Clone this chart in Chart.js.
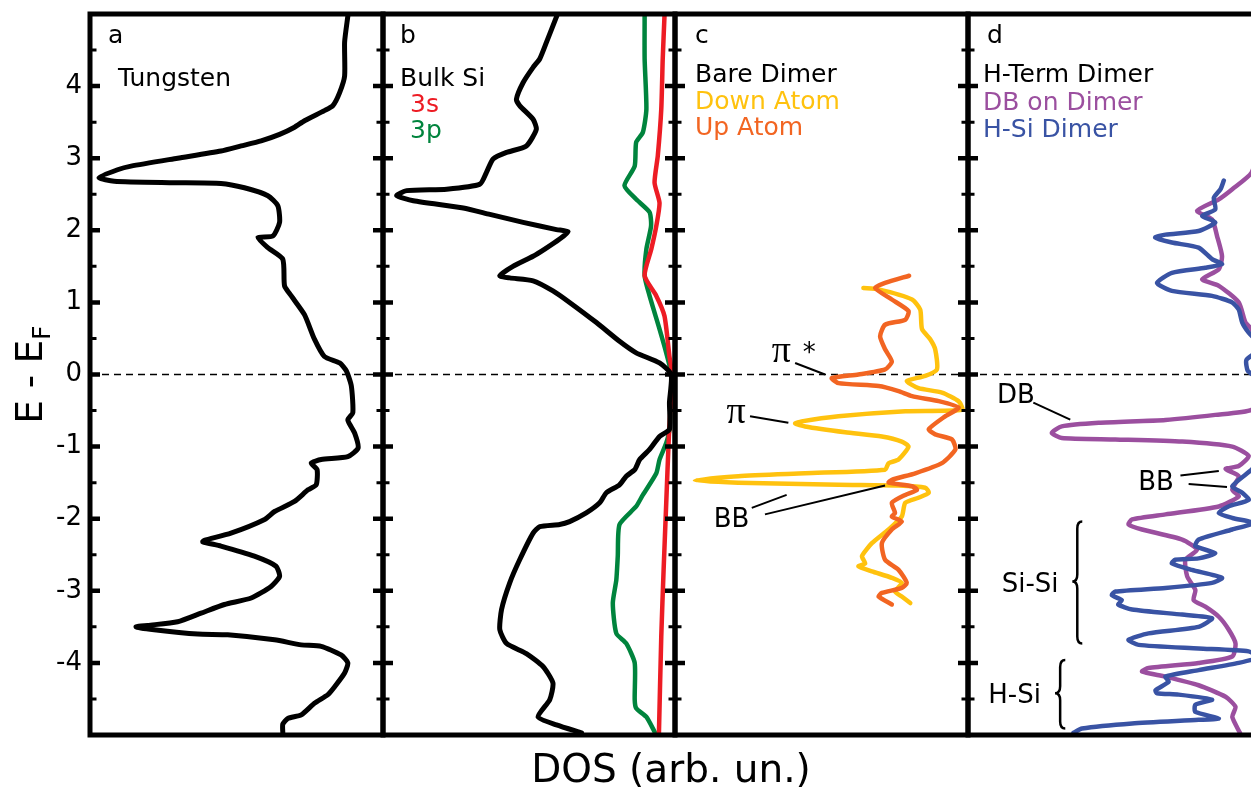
<!DOCTYPE html>
<html>
<head>
<meta charset="utf-8">
<script src="https://cdn.jsdelivr.net/npm/chart.js@4.4.1/dist/chart.umd.min.js"></script>
<style>
  html, body { margin: 0; padding: 0; background: #fff; overflow: hidden; }
  body { width: 1251px; height: 790px; position: relative; }
  canvas { position: absolute; top: 0; }
  #xTitle {
    position: absolute; left: 371px; width: 600px; top: 749px;
    text-align: center; font: 39px 'DejaVu Sans', sans-serif; line-height: 39px; color: #000;
  }
</style>
</head>
<body>
<canvas id="panelA" width="393" height="790" style="left:0px"></canvas>
<canvas id="panelB" width="312" height="790" style="left:373px"></canvas>
<canvas id="panelC" width="313" height="790" style="left:665px"></canvas>
<canvas id="panelD" width="313" height="790" style="left:958px"></canvas>
<div id="xTitle">DOS (arb. un.)</div>
<script>
// energy axis labels (eV relative to the Fermi level)
const energyTicks = [-4, -3, -2, -1, 0, 1, 2, 3, 4];

// each series: [energy, DOS] pairs, DOS in arbitrary units 0..100 across a panel
const tungsten = [
  [4.97, 88], [4.61, 86.9], [4.14, 86.9], [3.91, 85.2], [3.73, 82.9], [3.66, 80], [3.52, 73.2],
  [3.43, 69.8], [3.33, 64.7], [3.24, 58.4], [3.17, 51.6], [3.10, 44.7], [3.0, 29.9], [2.89, 14],
  [2.84, 9.4], [2.73, 3.1], [2.68, 8.3], [2.66, 27.6], [2.65, 44.7], [2.59, 52.7], [2.48, 60.7],
  [2.34, 64.1], [2.11, 64.7], [1.92, 62.4], [1.90, 57.3], [1.76, 60.7], [1.60, 65.8], [1.23, 66.4],
  [1.09, 68.7], [0.83, 73.2], [0.49, 76.6], [0.25, 80], [0.16, 85.2], [0.05, 87.5], [-0.16, 89.2],
  [-0.53, 89.7], [-0.63, 88], [-0.81, 90.3], [-1.02, 91.5], [-1.14, 88], [-1.18, 78.9], [-1.23, 75.5],
  [-1.32, 77.5], [-1.53, 77.2], [-1.60, 74.4], [-1.76, 69.8], [-1.90, 63], [-2.01, 59.6], [-2.20, 48.1],
  [-2.30, 39], [-2.32, 38.5], [-2.38, 44.7], [-2.52, 56.1], [-2.66, 63.5], [-2.80, 64.7], [-2.94, 61.8],
  [-3.10, 55], [-3.19, 45.9], [-3.31, 37.9], [-3.43, 29.9], [-3.48, 19.7], [-3.50, 15.7], [-3.54, 21.9],
  [-3.60, 36.8], [-3.61, 47], [-3.68, 63], [-3.75, 72.1], [-3.77, 78.9], [-3.89, 85.7], [-4.0, 88],
  [-4.14, 86.9], [-4.33, 83.5], [-4.44, 81.2], [-4.56, 76.6], [-4.72, 72.1], [-4.77, 67.5],
  [-4.85, 65.8], [-4.97, 65.8]
];

const bulkSi = [
  [4.97, 59.5], [4.61, 56], [4.38, 53.7], [4.26, 51.4], [4.05, 48], [3.82, 45.7], [3.73, 46.8],
  [3.54, 51.4], [3.40, 52.5], [3.17, 49.1], [3.08, 42.3], [2.99, 37.7], [2.80, 35.4], [2.64, 33.2],
  [2.57, 21.8], [2.55, 8.1], [2.48, 4.7], [2.41, 10.4], [2.31, 27.5], [2.22, 36.6], [2.11, 48],
  [2.01, 59.4], [1.98, 63.4], [1.88, 60.5], [1.74, 55.4], [1.64, 51.4], [1.50, 44.5], [1.37, 40],
  [1.34, 43.4], [1.30, 51.4], [1.16, 58.2], [1.0, 63.9], [0.72, 73.1], [0.46, 81], [0.30, 86.7],
  [0.16, 94.7], [0.0, 98.7], [-0.39, 98.1], [-0.76, 98.1], [-0.86, 94.7], [-1.04, 91.3], [-1.18, 87.9],
  [-1.32, 86.2], [-1.41, 83.3], [-1.53, 81], [-1.64, 76.5], [-1.78, 74.2], [-1.92, 69.6], [-2.04, 63.9],
  [-2.08, 60.5], [-2.11, 53.7], [-2.20, 51.4], [-2.57, 46.8], [-2.89, 43.4], [-3.26, 40.6], [-3.54, 40],
  [-3.73, 42.3], [-3.87, 49.1], [-4.05, 54.8], [-4.28, 58.2], [-4.51, 57.1], [-4.75, 53.1],
  [-4.86, 59.4], [-4.97, 68]
];

const bulkSi3p = [
  [4.97, 89.6], [4.38, 89.6], [3.68, 90.2], [3.36, 89], [3.22, 86.7], [2.89, 86.2], [2.62, 82.7],
  [2.43, 86.7], [2.25, 91.3], [2.06, 91.8], [1.74, 90.2], [1.37, 89.6], [1.09, 91.3], [0.63, 94.7],
  [0.30, 97], [0.0, 98.7], [-0.76, 98.1], [-0.95, 97], [-1.18, 94.7], [-1.37, 93.6], [-1.67, 89],
  [-1.83, 86.7], [-2.08, 81], [-2.52, 80.4], [-2.85, 79.9], [-3.17, 78.7], [-3.59, 79.9], [-3.73, 83.3],
  [-4.0, 86.2], [-4.51, 86.2], [-4.63, 86.7], [-4.75, 90.2], [-4.97, 93.2]
];

const bulkSi3s = [
  [4.97, 96.4], [4.38, 95.8], [3.68, 95.3], [3.03, 94.1], [2.66, 93], [2.38, 94.7], [2.06, 93.6],
  [1.74, 91.9], [1.37, 89.6], [1.09, 93.6], [0.81, 96.4], [0.25, 98.1], [0.0, 99], [-0.86, 97.9],
  [-1.78, 97], [-2.71, 96.1], [-3.63, 95.3], [-4.97, 94.5]
];

const upAtom = [
  [1.37, 79.9], [1.27, 71.7], [1.20, 68.3], [1.04, 74], [0.88, 79.7], [0.76, 78.6], [0.69, 71.7],
  [0.53, 70], [0.35, 71.7], [0.18, 74], [0.07, 71.7], [0.0, 62.6], [-0.05, 53.5], [-0.12, 55.8],
  [-0.16, 69.5], [-0.23, 76.3], [-0.30, 80.9], [-0.37, 90], [-0.46, 96.8], [-0.58, 92.2], [-0.76, 86.6],
  [-0.83, 88.8], [-0.90, 94.5], [-1.04, 95.7], [-1.23, 91.1], [-1.37, 82], [-1.46, 74], [-1.50, 72.9],
  [-1.55, 80.9], [-1.60, 82.6], [-1.67, 78.6], [-1.78, 74], [-1.92, 75.1], [-1.97, 74], [-2.04, 77.4],
  [-2.15, 74], [-2.34, 70.6], [-2.57, 71.7], [-2.71, 76.3], [-2.89, 79.1], [-2.96, 77.4], [-3.03, 70.6],
  [-3.08, 69.5], [-3.19, 74]
];

const downAtom = [
  [1.20, 64.3], [1.18, 69.5], [1.04, 80.9], [0.90, 83.7], [0.63, 84.3], [0.49, 87.1], [0.35, 88.8],
  [0.07, 89.4], [-0.02, 85.4], [-0.09, 79.1], [-0.19, 83.1], [-0.25, 91.1], [-0.37, 96.8], [-0.49, 98],
  [-0.51, 78.6], [-0.58, 55.8], [-0.65, 43.2], [-0.68, 41], [-0.72, 44.4], [-0.80, 58.1], [-0.86, 70.6],
  [-0.93, 77.4], [-1.0, 79.7], [-1.18, 76.3], [-1.23, 72.9], [-1.32, 71.7], [-1.37, 44.4], [-1.41, 21.6],
  [-1.47, 6.8], [-1.50, 21.6], [-1.53, 55.8], [-1.54, 76.3], [-1.57, 85.4], [-1.64, 86.6], [-1.71, 83.1],
  [-1.78, 78.6], [-1.97, 77.4], [-2.15, 72.9], [-2.34, 67.2], [-2.52, 63.8], [-2.62, 64.9], [-2.66, 62.6],
  [-2.73, 67.2], [-2.82, 74], [-2.89, 77.4], [-3.01, 75.1], [-3.08, 77.4], [-3.17, 80.3]
];

const dbOnDimer = [
  [3.2, 99.5], [2.80, 96.8], [2.57, 90.2], [2.43, 85.6], [2.27, 78.2], [2.15, 83.3], [1.92, 85],
  [1.64, 86.7], [1.46, 85.6], [1.32, 79.9], [1.23, 85.6], [1.0, 92.4], [0.72, 94.7], [0.63, 96.8],
  [0.3, 99.5], [-0.3, 99.5], [-0.49, 96.8], [-0.56, 84.4], [-0.63, 67.4], [-0.67, 44.6], [-0.72, 32],
  [-0.81, 28.6], [-0.88, 32], [-0.90, 50.3], [-0.93, 73.1], [-1.0, 90.2], [-1.13, 95.8], [-1.27, 92.4],
  [-1.31, 87.9], [-1.41, 92.4], [-1.60, 90.2], [-1.69, 92.4], [-1.83, 85.6], [-1.94, 67.4], [-2.01, 56],
  [-2.08, 54.8], [-2.15, 59.4], [-2.29, 73.1], [-2.43, 78.2], [-2.57, 74.2], [-2.80, 74.8], [-2.99, 77.6],
  [-3.13, 77], [-3.22, 81], [-3.36, 85.6], [-3.54, 89], [-3.73, 91.3], [-3.91, 90.2], [-4.0, 78.7],
  [-4.07, 61.6], [-4.12, 59.4], [-4.19, 67.4], [-4.31, 78.7], [-4.47, 87.9], [-4.61, 91.3], [-4.75, 90.2],
  [-4.97, 92.8]
];

const hSiDimer = [
  [2.69, 87.3], [2.57, 86.2], [2.45, 83.9], [2.29, 84.4], [2.20, 79.9], [2.11, 84.4], [1.99, 78.7],
  [1.94, 67.4], [1.90, 63.9], [1.83, 69.6], [1.76, 78.7], [1.60, 83.3], [1.53, 86.7], [1.48, 81],
  [1.41, 69.6], [1.27, 64.5], [1.16, 69.6], [1.09, 83.3], [1.0, 90.2], [0.90, 92.4], [0.72, 93.6],
  [0.58, 95.8], [0.44, 99], [0.32, 98.5], [0.2, 95], [0.05, 95.5], [-0.05, 98.5], [-0.6, 99.5],
  [-1.2, 99.5], [-1.32, 96.8], [-1.55, 90.2], [-1.64, 93.6], [-1.74, 95.8], [-1.83, 88.9], [-1.92, 85.6],
  [-1.99, 90.2], [-2.06, 97.5], [-2.15, 90.2], [-2.29, 78.7], [-2.38, 77.6], [-2.48, 84.4], [-2.55, 78.7],
  [-2.57, 70.7], [-2.62, 69.6], [-2.71, 76.4], [-2.82, 86.7], [-2.89, 83.3], [-2.96, 67.4], [-3.01, 50.3],
  [-3.06, 49.1], [-3.13, 52.5], [-3.19, 51.3], [-3.26, 56], [-3.33, 73.1], [-3.38, 83.3], [-3.50, 78.7],
  [-3.59, 61.6], [-3.68, 54.8], [-3.75, 58.2], [-3.80, 78.7], [-3.84, 95.8], [-3.92, 99], [-4.0, 92.4],
  [-4.10, 78.7], [-4.19, 67.4], [-4.26, 68.5], [-4.38, 64], [-4.42, 64.5], [-4.44, 71.9], [-4.51, 83.3],
  [-4.58, 77.6], [-4.68, 77.6], [-4.77, 85.6], [-4.79, 78.7], [-4.84, 56], [-4.91, 38.9], [-4.97, 36]
];

const colors = {
  black: '#000000',
  s3: '#ED1C24',
  p3: '#00843D',
  down: '#FFC20E',
  up: '#F26522',
  db: '#9B4F9F',
  hsi: '#3953A4'
};

const FONT = "'DejaVu Sans', sans-serif";
Chart.defaults.font.family = FONT;

// frame, inward energy ticks, Fermi level line and the panel annotations
const panelFrame = {
  id: 'panelFrame',
  beforeDatasetsDraw(chart) {
    const { ctx, chartArea: a, scales: { y } } = chart;
    const y0 = y.getPixelForValue(0);
    ctx.save();
    ctx.strokeStyle = '#000';
    ctx.lineWidth = 1.5;
    ctx.setLineDash([7, 5]);
    ctx.beginPath();
    ctx.moveTo(a.left, y0);
    ctx.lineTo(a.right, y0);
    ctx.stroke();
    ctx.restore();
  },
  afterDatasetsDraw(chart, args, opts) {
    const { ctx, chartArea: a, scales: { x, y } } = chart;
    ctx.save();
    ctx.strokeStyle = '#000';
    ctx.fillStyle = '#000';

    // ticks every half eV, longer on whole eV
    for (let k = -9; k <= 9; k++) {
      const py = y.getPixelForValue(k / 2);
      const major = k % 2 === 0;
      const len = major ? 10 : 6.5;
      ctx.lineWidth = major ? 4.5 : 3;
      ctx.beginPath();
      ctx.moveTo(a.left, py); ctx.lineTo(a.left + len, py);
      ctx.moveTo(a.right, py); ctx.lineTo(a.right - len, py);
      ctx.stroke();
    }

    ctx.lineWidth = 5;
    ctx.strokeRect(a.left, a.top, a.right - a.left, a.bottom - a.top);

    // panel titles
    ctx.textAlign = 'left';
    ctx.textBaseline = 'alphabetic';
    for (const t of opts.labels || []) {
      ctx.font = `25px ${FONT}`;
      ctx.fillStyle = t.color || '#000';
      ctx.fillText(t.text, a.left + t.dx, a.top + t.dy);
    }

    // annotations placed in data coordinates
    ctx.fillStyle = '#000';
    for (const n of opts.notes || []) {
      ctx.font = n.font || `26px ${FONT}`;
      ctx.fillText(n.text, x.getPixelForValue(n.x), y.getPixelForValue(n.y));
    }
    ctx.lineWidth = 2;
    for (const [x1, y1, x2, y2] of opts.leaders || []) {
      ctx.beginPath();
      ctx.moveTo(x.getPixelForValue(x1), y.getPixelForValue(y1));
      ctx.lineTo(x.getPixelForValue(x2), y.getPixelForValue(y2));
      ctx.stroke();
    }
    ctx.lineWidth = 2.5;
    for (const b of opts.braces || []) {
      const xl = x.getPixelForValue(b.tip);
      const xr = x.getPixelForValue(b.end);
      const xm = (xl + xr) / 2;
      const yt = y.getPixelForValue(b.top);
      const ym = y.getPixelForValue(b.mid);
      const yb = y.getPixelForValue(b.bottom);
      const r = 7;
      ctx.beginPath();
      ctx.moveTo(xr, yt);
      ctx.quadraticCurveTo(xm, yt, xm, yt + r);
      ctx.lineTo(xm, ym - r);
      ctx.quadraticCurveTo(xm, ym, xl, ym);
      ctx.quadraticCurveTo(xm, ym, xm, ym + r);
      ctx.lineTo(xm, yb - r);
      ctx.quadraticCurveTo(xm, yb, xr, yb);
      ctx.stroke();
    }

    // rotated energy axis title with subscript
    if (opts.yTitle) {
      ctx.translate(42, (a.top + a.bottom) / 2);
      ctx.rotate(-Math.PI / 2);
      ctx.font = `37px ${FONT}`;
      const main = 'E - E';
      const w1 = ctx.measureText(main).width;
      ctx.font = `25px ${FONT}`;
      const w2 = ctx.measureText('F').width;
      const u = -(w1 + w2) / 2;
      ctx.font = `37px ${FONT}`;
      ctx.fillText(main, u, 0);
      ctx.font = `25px ${FONT}`;
      ctx.fillText('F', u + w1, 8);
    }
    ctx.restore();
  }
};

const hiddenEnergy = { type: 'linear', min: -5, max: 5, display: false };

function makePanel(id, series, padLeft, frameOpts, yAxis) {
  return new Chart(document.getElementById(id), {
    type: 'scatter',
    data: {
      datasets: series.map(s => ({
        data: s.values.map(([e, dos]) => ({ x: dos, y: e })),
        borderColor: s.color,
        borderWidth: s.width || 4.5,
        showLine: true,
        pointRadius: 0,
        tension: 0.2,
        borderJoinStyle: 'round',
        borderCapStyle: 'round',
        fill: false
      }))
    },
    options: {
      responsive: false,
      animation: false,
      layout: { padding: { left: padLeft, right: 10, top: 14, bottom: 55 } },
      plugins: {
        legend: { display: false },
        tooltip: { enabled: false },
        panelFrame: frameOpts
      },
      scales: {
        x: { type: 'linear', min: 0, max: 100, display: false },
        y: yAxis || hiddenEnergy
      }
    },
    plugins: [panelFrame]
  });
}

makePanel('panelA', [{ values: tungsten, color: colors.black, width: 5 }], 0, {
  yTitle: true,
  labels: [
    { text: 'a', dx: 18, dy: 29 },
    { text: 'Tungsten', dx: 28, dy: 72 }
  ]
}, {
  type: 'linear', min: -5, max: 5, position: 'left',
  grid: { display: false, drawTicks: false },
  border: { display: false },
  ticks: { color: '#000', font: { size: 26 }, padding: 8 },
  afterBuildTicks: axis => { axis.ticks = energyTicks.map(v => ({ value: v })); },
  afterFit: axis => { axis.width = 90; axis.paddingTop = 0; axis.paddingBottom = 0; }
});

makePanel('panelB', [
  { values: bulkSi, color: colors.black, width: 5 },
  { values: bulkSi3s, color: colors.s3 },
  { values: bulkSi3p, color: colors.p3 }
], 10, {
  labels: [
    { text: 'b', dx: 17, dy: 29 },
    { text: 'Bulk Si', dx: 17, dy: 72 },
    { text: '3s', dx: 27, dy: 98, color: colors.s3 },
    { text: '3p', dx: 27, dy: 124, color: colors.p3 }
  ]
});

makePanel('panelC', [
  { values: upAtom, color: colors.up },
  { values: downAtom, color: colors.down }
], 10, {
  labels: [
    { text: 'c', dx: 20, dy: 29 },
    { text: 'Bare Dimer', dx: 20, dy: 68 },
    { text: 'Down Atom', dx: 20, dy: 95, color: colors.down },
    { text: 'Up Atom', dx: 20, dy: 121, color: colors.up }
  ],
  notes: [
    { text: 'π', x: 33.0, y: 0.167, font: "38px 'Liberation Serif', serif" },
    { text: '*', x: 43.6, y: 0.194, font: `26px ${FONT}` },
    { text: 'π', x: 17.6, y: -0.667, font: "38px 'Liberation Serif', serif" },
    { text: 'BB', x: 13.2, y: -2.11 }
  ],
  leaders: [
    [41.0, 0.16, 51.2, 0.0],
    [25.6, -0.58, 38.7, -0.67],
    [26.2, -1.85, 38.1, -1.67],
    [30.7, -1.94, 71.7, -1.54]
  ]
});

makePanel('panelD', [
  { values: hSiDimer, color: colors.hsi },
  { values: dbOnDimer, color: colors.db }
], 10, {
  labels: [
    { text: 'd', dx: 19, dy: 29 },
    { text: 'H-Term Dimer', dx: 15, dy: 68 },
    { text: 'DB on Dimer', dx: 15, dy: 96, color: colors.db },
    { text: 'H-Si Dimer', dx: 15, dy: 123, color: colors.hsi }
  ],
  notes: [
    { text: 'DB', x: 9.9, y: -0.39 },
    { text: 'BB', x: 58.1, y: -1.60 },
    { text: 'Si-Si', x: 11.5, y: -3.01 },
    { text: 'H-Si', x: 6.9, y: -4.56 }
  ],
  leaders: [
    [22.3, -0.39, 34.9, -0.625],
    [72.5, -1.40, 85.6, -1.34],
    [75.3, -1.52, 88.4, -1.56]
  ],
  braces: [
    { tip: 35.6, end: 39.0, top: -2.04, mid: -2.87, bottom: -3.73 },
    { tip: 29.7, end: 33.2, top: -3.96, mid: -4.42, bottom: -4.91 }
  ]
});
</script>
</body>
</html>
